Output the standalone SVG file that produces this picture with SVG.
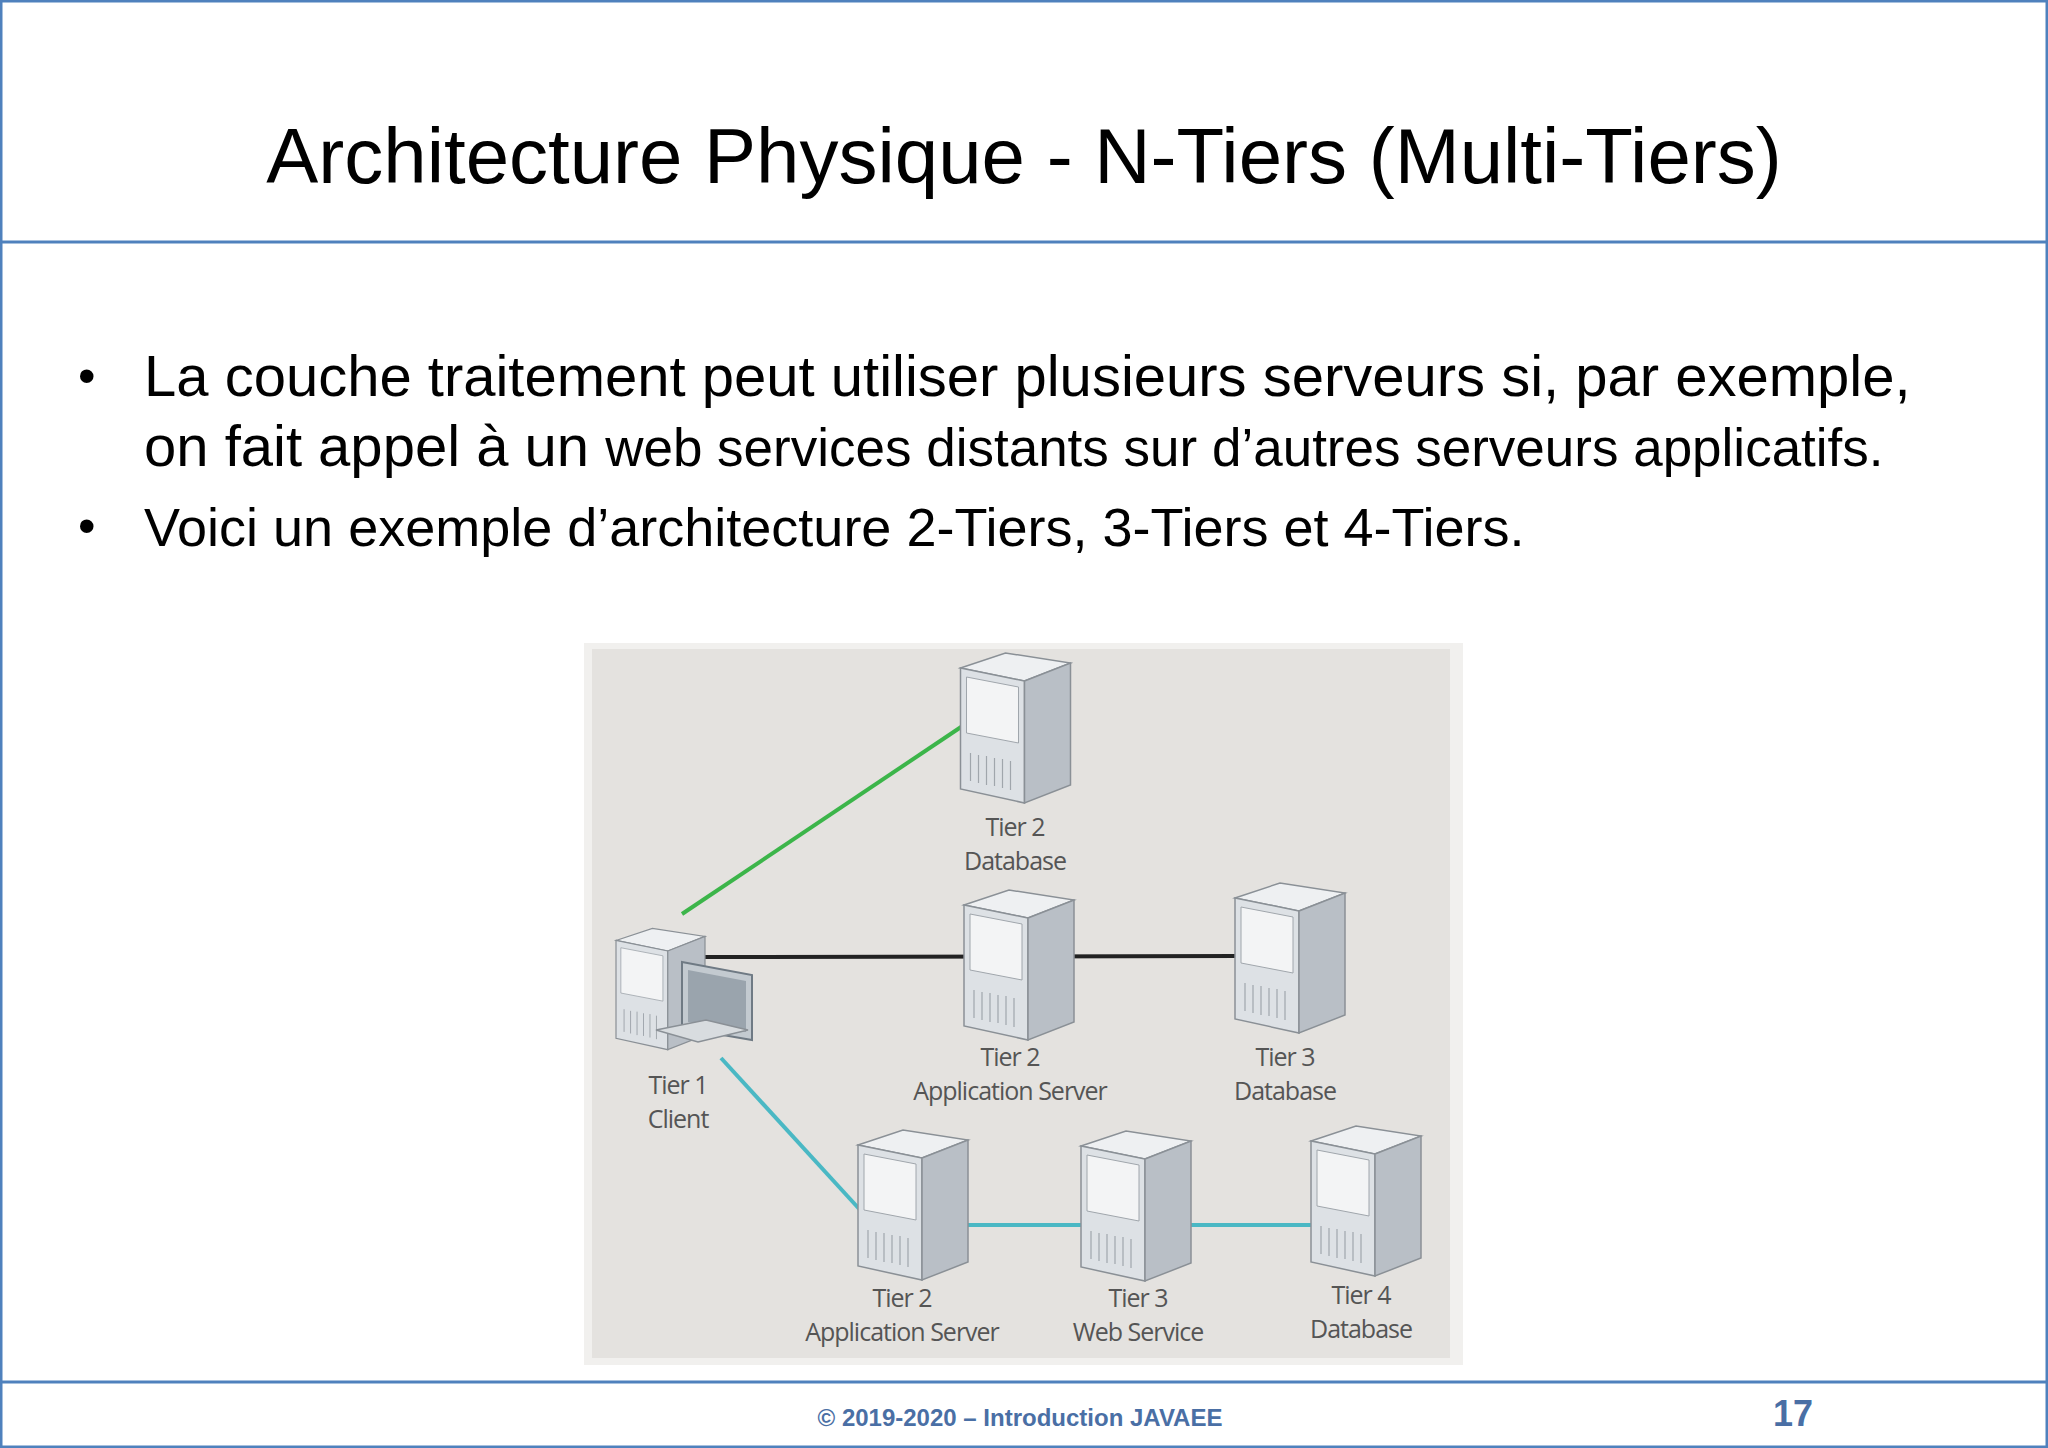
<svg xmlns="http://www.w3.org/2000/svg" width="2048" height="1448" viewBox="0 0 2048 1448">
<style>
.t{font-family:"Liberation Sans",Arial,sans-serif;fill:#000}
.lb{font-family:"Open Sans","Liberation Sans",sans-serif;font-size:25px;fill:#555;text-anchor:middle;letter-spacing:-1px}
.ft{font-family:"Liberation Sans",Arial,sans-serif;font-weight:bold;fill:#4a6fa5}
</style>
<defs>
<symbol id="srv" viewBox="0 0 110 150" overflow="visible">
<polygon points="0,15 45,0 110,10 64,28" fill="#eef0f2" stroke="#8a9096" stroke-width="1.5"/>
<polygon points="0,15 64,28 64,150 0,136" fill="#dde1e5" stroke="#8a9096" stroke-width="1.5"/>
<polygon points="64,28 110,10 110,132 64,150" fill="#b9bfc6" stroke="#8a9096" stroke-width="1.5"/>
<polygon points="6,24 58,34 58,90 6,80" fill="#f3f4f5" stroke="#a0a6ac" stroke-width="1"/>
<g stroke="#a0a6ac" stroke-width="1.2">
<line x1="10" y1="100" x2="10" y2="128"/><line x1="18" y1="102" x2="18" y2="130"/><line x1="26" y1="103" x2="26" y2="132"/><line x1="34" y1="105" x2="34" y2="133"/><line x1="42" y1="106" x2="42" y2="135"/><line x1="50" y1="108" x2="50" y2="137"/>
</g>
</symbol>
</defs>
<rect x="1" y="1" width="2046" height="1446" fill="#fff" stroke="#4f81bd" stroke-width="3"/>
<line x1="0" y1="242" x2="2048" y2="242" stroke="#4f81bd" stroke-width="3"/>
<line x1="0" y1="1382" x2="2048" y2="1382" stroke="#4f81bd" stroke-width="3"/>
<text class="t" x="1024" y="183" font-size="78" text-anchor="middle">Architecture Physique - N-Tiers (Multi-Tiers)</text>
<text class="t" x="78" y="393" font-size="50">•</text>
<text class="t" x="144" y="396" font-size="58">La couche traitement peut utiliser plusieurs serveurs si, par exemple,</text>
<text class="t" x="144" y="466" font-size="58">on fait appel à un <tspan font-size="53">web services distants sur d’autres serveurs applicatifs.</tspan></text>
<text class="t" x="78" y="543" font-size="50">•</text>
<text class="t" x="144" y="546" font-size="54">Voici un exemple d’architecture 2-Tiers, 3-Tiers et 4-Tiers.</text>
<text class="ft" x="1020" y="1426" font-size="24" text-anchor="middle">© 2019-2020 – Introduction JAVAEE</text>
<text class="ft" x="1793" y="1426" font-size="36" text-anchor="middle">17</text>
<rect x="584" y="643" width="879" height="722" fill="#f1f0ee"/>
<rect x="592" y="649" width="858" height="709" fill="#e4e2df"/>
<g id="connectors" fill="none" stroke-width="4">
<line x1="682" y1="914" x2="964" y2="725" stroke="#3cb54a"/>
<line x1="705" y1="957" x2="1238" y2="956" stroke="#222"/>
<polyline points="721,1058 862,1212" stroke="#4ab8c4"/>
<line x1="966" y1="1225" x2="1316" y2="1225" stroke="#4ab8c4"/>
</g>
<g id="client">
<use href="#srv" x="616" y="914" width="89" height="150"/>
<polygon points="682,962 752,975 752,1040 682,1028" fill="#c3cad0" stroke="#6f7a84" stroke-width="2"/>
<polygon points="688,970 746,981 746,1032 688,1022" fill="#9aa4ad"/>
<polygon points="656,1030 706,1020 748,1030 698,1042" fill="#d8dcdf" stroke="#8a9096" stroke-width="1.5"/>
<text class="lb" x="678" y="1094">Tier 1</text><text class="lb" x="678" y="1128">Client</text>
</g>
<g id="t2db"><use href="#srv" x="960" y="653" width="111" height="150"/>
<text class="lb" x="1015" y="836">Tier 2</text><text class="lb" x="1015" y="870">Database</text></g>
<g id="t2app"><use href="#srv" x="964" y="890" width="110" height="150"/>
<text class="lb" x="1010" y="1066">Tier 2</text><text class="lb" x="1010" y="1100">Application Server</text></g>
<g id="t3db"><use href="#srv" x="1235" y="883" width="110" height="150"/>
<text class="lb" x="1285" y="1066">Tier 3</text><text class="lb" x="1285" y="1100">Database</text></g>
<g id="t2app2"><use href="#srv" x="857" y="1130" width="112" height="150"/>
<text class="lb" x="902" y="1307">Tier 2</text><text class="lb" x="902" y="1341">Application Server</text></g>
<g id="t3ws"><use href="#srv" x="1081" y="1131" width="110" height="150"/>
<text class="lb" x="1138" y="1307">Tier 3</text><text class="lb" x="1138" y="1341">Web Service</text></g>
<g id="t4db"><use href="#srv" x="1311" y="1126" width="110" height="150"/>
<text class="lb" x="1361" y="1304">Tier 4</text><text class="lb" x="1361" y="1338">Database</text></g>
</svg>
